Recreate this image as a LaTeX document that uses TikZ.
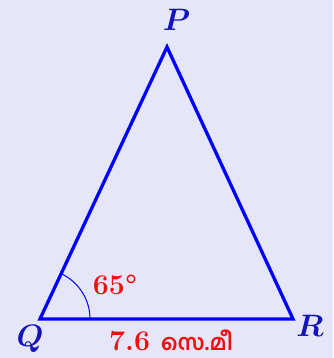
\documentclass[tikz,border=0pt]{standalone}
\usepackage{fix-cm}
\usepackage{bm}
\usepackage{fontspec}
\newfontfamily\malfont[Script=Malayalam]{Hind Kochi}
\definecolor{bgc}{RGB}{230,230,250}
\definecolor{lblue}{RGB}{0,0,255}
\definecolor{vblue}{RGB}{20,20,185}
\definecolor{mred}{RGB}{240,15,15}
\begin{document}
\begin{tikzpicture}[x=1pt,y=1pt,
  side/.style={draw=lblue,line width=3.3pt,line join=miter},
  vlabel/.style={text=vblue,font=\fontsize{31}{34}\selectfont,inner sep=0pt,anchor=base},
  mlabel/.style={text=mred,font=\fontsize{28.5}{30}\selectfont\bfseries,inner sep=0pt,anchor=base,text depth=0pt}]
\fill[bgc] (0,0) rectangle (333,358);
\useasboundingbox (0,0) rectangle (333,358);
\coordinate (Q) at (40,39);
\coordinate (R) at (293,39);
\coordinate (P) at (167,311);
\draw[side] (Q) -- (R) -- (P) -- cycle;
\draw[lblue,line width=1pt] ([shift={(0:50)}]Q) arc[start angle=0,end angle=65,radius=50];
\node[vlabel] (pl) at (176.5,327) {$\bm{P}$};
\node[vlabel] (ql) at (30,11) {$\bm{Q}$};
\node[vlabel] (rl) at (310,21) {$\bm{R}$};
\node[mlabel] (ang) at (115,63) {65°};
\node[mlabel] (len) at (171,8) {7.6 {\malfont\fontsize{22}{24}\selectfont സെ.മീ}};
\end{tikzpicture}
\end{document}
